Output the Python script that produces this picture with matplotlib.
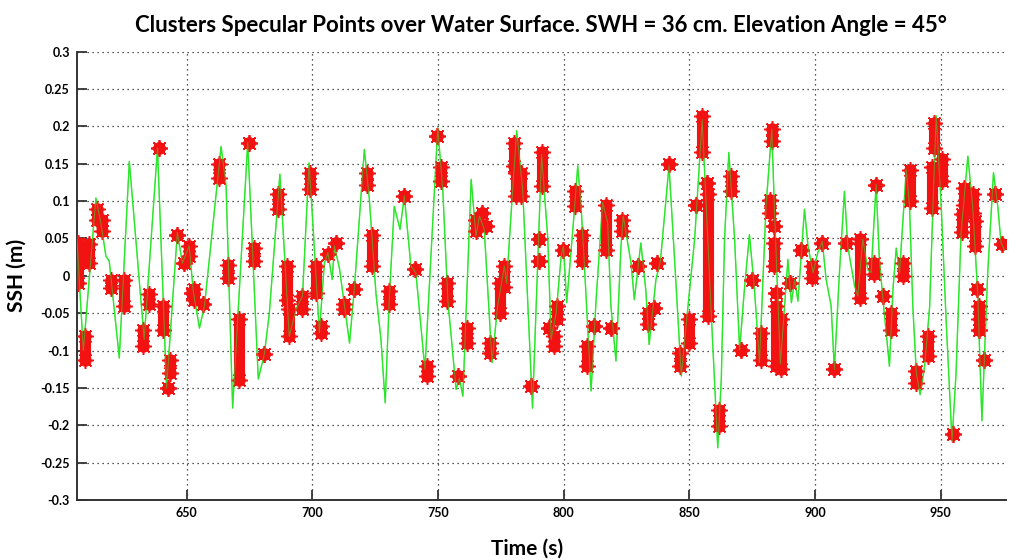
import numpy as np
import matplotlib
matplotlib.use("Agg")
import matplotlib.pyplot as plt

plt.rcParams['font.family'] = ['Lato', 'DejaVu Sans']

# SSH profile (time in s, height in m)
time_s = [606.0, 608.9, 613.9, 615.9, 617.9, 619.2, 623.2, 627.2, 633.1, 638.4,
          642.0, 646.3, 648.3, 651.0, 652.6, 655.1, 657.1, 663.7, 665.7, 668.3,
          674.3, 678.5, 680.9, 682.9, 687.1, 690.8, 693.5, 696.1, 698.7, 700.2,
          702.8, 704.8, 706.2, 707.9, 708.8, 710.8, 714.8, 716.7, 720.7, 722.7,
          725.3, 727.3, 729.0, 730.6, 732.6, 734.9, 736.6, 739.2, 741.2, 744.8,
          749.9, 751.9, 753.9, 757.2, 758.5, 759.9, 763.2, 765.1, 766.5, 768.4,
          771.5, 773.7, 776.4, 777.3, 779.7, 781.3, 783.7, 787.6, 791.2, 793.7,
          795.0, 797.0, 799.0, 799.9, 801.2, 803.6, 805.6, 806.9, 808.2, 810.9,
          812.9, 815.5, 817.5, 818.8, 820.8, 822.8, 823.7, 826.8, 828.1, 830.7,
          832.7, 834.0, 836.7, 838.5, 841.9, 844.2, 846.8, 848.8, 852.1, 855.1,
          856.7, 858.7, 861.3, 862.7, 864.0, 865.7, 868.0, 870.0, 871.9, 873.9,
          875.9, 877.9, 880.5, 882.8, 883.8, 886.2, 887.9, 889.2, 890.6, 891.9,
          893.2, 895.8, 897.2, 899.2, 901.1, 902.9, 904.4, 906.4, 907.7, 909.7,
          911.7, 913.0, 915.7, 917.0, 919.0, 921.0, 922.3, 924.3, 925.6, 926.9,
          929.6, 931.0, 932.3, 933.6, 936.3, 937.6, 938.9, 940.3, 941.8, 943.6,
          945.6, 946.9, 948.2, 950.2, 952.2, 954.5, 956.1, 958.1, 960.8, 962.7,
          964.7, 966.4, 968.7, 971.0, 972.7, 974.0, 975.3]
ssh_m = [0.070, -0.100, 0.104, 0.070, 0.026, 0.020, -0.110, 0.153, -0.085, 0.171,
         -0.150, 0.058, 0.017, 0.040, -0.020, -0.070, -0.040, 0.173, 0.120, -0.177,
         0.178, -0.138, -0.105, -0.050, 0.136, -0.081, -0.045, -0.027, 0.151, 0.071,
         -0.076, 0.017, 0.031, -0.005, 0.040, 0.010, -0.090, -0.018, 0.169, 0.102,
         -0.023, -0.085, -0.170, -0.032, 0.093, 0.062, 0.107, 0.013, 0.004, -0.125,
         0.198, 0.115, -0.032, -0.152, -0.137, -0.161, 0.129, 0.053, 0.080, 0.062,
         -0.116, -0.041, 0.013, -0.010, 0.115, 0.194, 0.115, -0.177, 0.162, 0.049,
         -0.085, -0.050, 0.026, 0.040, -0.036, 0.060, 0.147, 0.094, 0.017, -0.154,
         -0.032, 0.098, 0.071, -0.041, -0.114, 0.040, 0.080, 0.017, -0.032, 0.044,
         -0.020, -0.092, -0.005, 0.020, 0.147, 0.017, -0.134, -0.063, 0.049, 0.209,
         0.093, -0.050, -0.230, -0.139, 0.049, 0.165, 0.049, -0.099, -0.018, 0.055,
         -0.018, -0.116, 0.093, 0.196, 0.093, -0.118, -0.040, 0.022, -0.036, -0.005,
         -0.034, 0.089, 0.040, 0.004, 0.031, 0.046, -0.005, -0.040, -0.125, 0.004,
         0.113, 0.040, -0.013, -0.027, 0.049, 0.008, 0.004, 0.122, 0.022, -0.027,
         -0.121, -0.018, 0.037, 0.004, 0.142, 0.093, -0.041, -0.130, -0.159, -0.121,
         -0.041, 0.093, 0.214, 0.093, -0.063, -0.221, -0.130, 0.058, 0.160, 0.093,
         -0.023, -0.194, 0.004, 0.138, 0.093, 0.044, 0.035]

# specular point clusters: time, lowest and highest SSH of each stack
clu_t = [606.8, 611.0, 609.5, 614.5, 616.5, 620.0, 625.2, 632.5, 635.1, 639.0,
         640.4, 642.4, 643.4, 646.3, 649.0, 651.0, 652.3, 653.1, 656.7, 663.0,
         666.3, 671.0, 675.0, 676.6, 680.9, 686.2, 689.9, 690.8, 695.8, 699.0,
         701.3, 703.5, 706.2, 709.5, 712.8, 716.7, 721.6, 723.6, 730.4, 736.6,
         741.0, 745.6, 749.5, 751.3, 753.5, 757.9, 761.4, 765.1, 767.5, 769.1,
         770.8, 774.5, 776.3, 780.4, 781.0, 783.0, 787.0, 790.3, 790.3, 791.3,
         794.3, 796.3, 797.3, 799.6, 804.7, 807.3, 809.3, 812.2, 816.8, 818.8,
         823.4, 829.4, 833.4, 836.0, 837.3, 841.9, 846.1, 849.8, 855.1, 852.8,
         857.0, 857.4, 861.7, 866.6, 870.6, 875.0, 878.5, 882.8, 881.9, 883.8,
         883.8, 884.6, 884.6, 886.6, 889.9, 894.5, 898.9, 902.9, 907.7, 912.4,
         918.0, 924.3, 923.5, 926.9, 930.2, 935.0, 937.6, 940.3, 944.9, 946.6,
         947.5, 950.6, 954.8, 959.4, 958.5, 962.7, 963.8, 964.3, 965.1, 965.1,
         967.4, 971.7, 974.4]
clu_lo = [-0.010, 0.017, -0.112, 0.075, 0.060, -0.016, -0.040, -0.094, -0.038, 0.171,
          -0.072, -0.150, -0.130, 0.055, 0.017, 0.026, -0.023, -0.032, -0.038, 0.131,
          -0.003, -0.139, 0.178, 0.020, -0.105, 0.089, -0.032, -0.081, -0.045, 0.116,
          -0.023, -0.076, 0.029, 0.044, -0.045, -0.018, 0.122, 0.013, -0.038, 0.107,
          0.009, -0.134, 0.187, 0.127, -0.034, -0.134, -0.090, 0.060, 0.084, 0.066,
          -0.103, -0.050, -0.015, 0.147, 0.107, 0.107, -0.148, 0.020, 0.049, 0.120,
          -0.070, -0.094, -0.058, 0.035, 0.093, 0.020, -0.121, -0.067, 0.035, -0.070,
          0.060, 0.013, -0.065, -0.043, 0.017, 0.149, -0.121, -0.090, 0.165, 0.095,
          0.124, -0.054, -0.201, 0.113, -0.099, -0.005, -0.112, 0.180, 0.084, 0.066,
          0.013, -0.121, -0.023, -0.125, -0.009, 0.035, -0.003, 0.044, -0.125, 0.044,
          -0.030, 0.122, 0.002, -0.027, -0.072, 0.000, 0.100, -0.143, -0.107, 0.091,
          0.171, 0.127, -0.212, 0.095, 0.058, 0.084, 0.040, -0.017, -0.058, -0.072,
          -0.112, 0.110, 0.042]
clu_hi = [0.044, 0.042, -0.080, 0.089, 0.075, -0.005, -0.005, -0.072, -0.025, 0.171,
          -0.040, -0.150, -0.112, 0.055, 0.017, 0.040, -0.023, -0.018, -0.038, 0.149,
          0.015, -0.058, 0.178, 0.037, -0.105, 0.109, 0.013, -0.045, -0.027, 0.138,
          0.013, -0.067, 0.029, 0.044, -0.038, -0.018, 0.138, 0.055, -0.020, 0.107,
          0.009, -0.121, 0.187, 0.145, -0.009, -0.134, -0.070, 0.075, 0.084, 0.066,
          -0.090, -0.010, 0.013, 0.178, 0.138, 0.138, -0.148, 0.020, 0.049, 0.165,
          -0.070, -0.081, -0.040, 0.035, 0.113, 0.055, -0.094, -0.067, 0.095, -0.070,
          0.075, 0.013, -0.050, -0.043, 0.017, 0.149, -0.103, -0.058, 0.214, 0.095,
          0.124, 0.109, -0.179, 0.133, -0.099, -0.005, -0.076, 0.196, 0.102, 0.066,
          0.044, -0.040, -0.023, -0.058, -0.009, 0.035, 0.013, 0.044, -0.125, 0.044,
          0.049, 0.122, 0.017, -0.027, -0.050, 0.017, 0.142, -0.128, -0.081, 0.145,
          0.205, 0.156, -0.212, 0.118, 0.082, 0.109, 0.073, -0.017, -0.041, -0.072,
          -0.112, 0.110, 0.042]

fig = plt.figure(figsize=(10.24, 5.6), dpi=100)
ax = fig.add_axes([0.075, 0.107, 0.907, 0.801])

ax.plot(time_s, ssh_m, color='#22ee22', lw=1.0, zorder=2)

red = '#f21212'
for t, lo, hi in zip(clu_t, clu_lo, clu_hi):
    # stack of asterisk markers -> red blob with spiky edge
    ax.plot([t, t], [lo, hi], color=red, lw=8, solid_capstyle='round', zorder=3)
    ax.plot([t, t], [lo, hi], ls='none', marker='o', ms=9, mew=0,
            color=red, zorder=3)
    ax.plot([t, t], [lo, hi], ls='none', marker=(8, 2, 0), ms=12, mew=1.1,
            color=red, zorder=3)
# green line shows through the red markers
ax.plot(time_s, ssh_m, color='#33dd33', lw=0.8, alpha=0.55, zorder=4)

ax.set_xlim(606.3, 975.8)
ax.set_ylim(-0.3, 0.3)
ax.set_xticks([650, 700, 750, 800, 850, 900, 950])
ax.set_yticks(np.round(np.arange(-0.3, 0.301, 0.05), 2))
ax.set_yticklabels(['-0.3', '-0.25', '-0.2', '-0.15', '-0.1', '-0.05', '0',
                    '0.05', '0.1', '0.15', '0.2', '0.25', '0.3'])
ax.grid(True, color='#222222', ls=(0, (1, 3)), lw=0.9)
ax.set_axisbelow(True)

for s in ['top', 'right']:
    ax.spines[s].set_visible(False)
for s in ['left', 'bottom']:
    ax.spines[s].set_linewidth(1.4)
    ax.spines[s].set_color('#333333')
ax.tick_params(direction='in', length=7, width=1.3, color='#333333',
               labelsize=9, pad=5)
for lab in ax.get_xticklabels() + ax.get_yticklabels():
    lab.set_fontweight('bold')

ax.set_title('Clusters Specular Points over Water Surface. SWH = 36 cm. Elevation Angle = 45°',
             fontsize=16, fontweight='bold', pad=14)
ax.set_xlabel('Time (s)', fontsize=15, fontweight='bold')
ax.xaxis.set_label_coords(0.485, -0.085)
ax.set_ylabel('SSH (m)', fontsize=15, fontweight='bold')
ax.yaxis.set_label_coords(-0.054, 0.5)

fig.savefig('out.png', dpi=100)
